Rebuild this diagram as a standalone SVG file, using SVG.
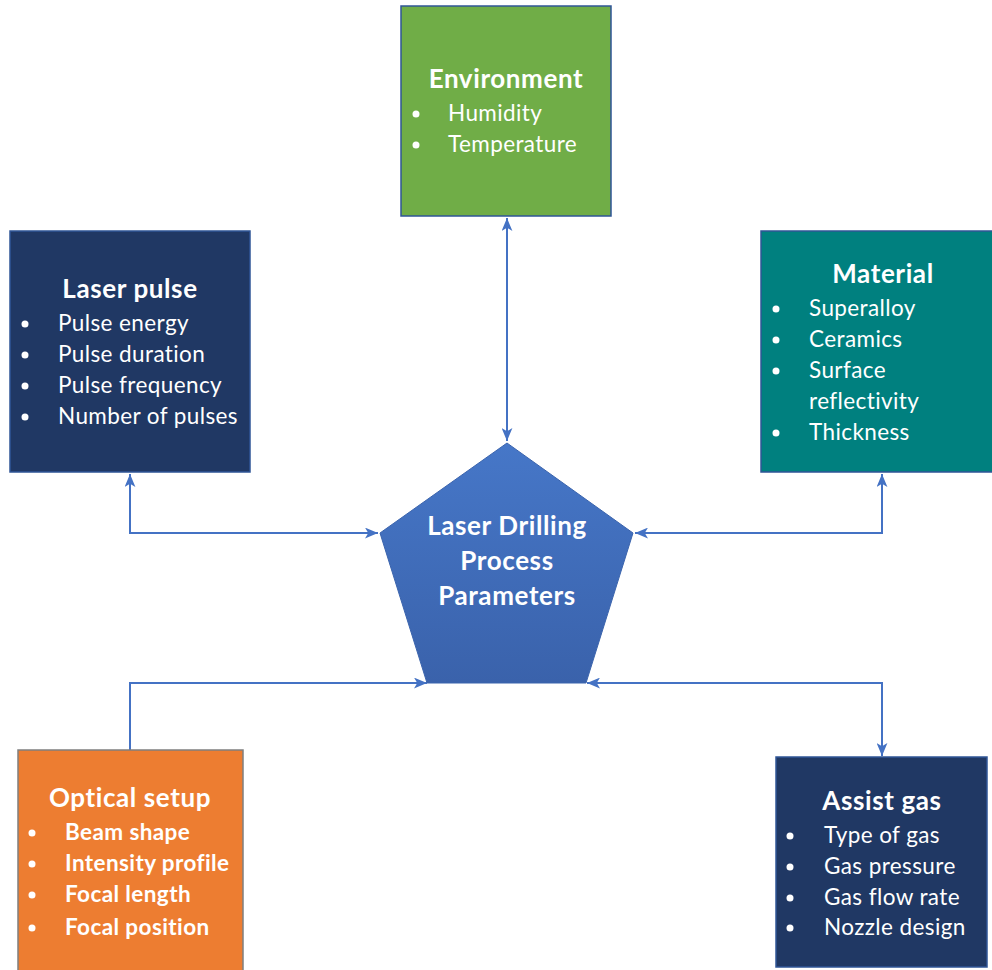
<svg xmlns="http://www.w3.org/2000/svg" width="992" height="970" viewBox="0 0 992 970">
<defs>
<linearGradient id="pg" x1="0" y1="0" x2="0" y2="1">
<stop offset="0" stop-color="#4677C8"/>
<stop offset="1" stop-color="#3A62AB"/>
</linearGradient>
<marker id="ah2" viewBox="0 0 12 10" refX="12" refY="5" markerWidth="13" markerHeight="11" orient="auto-start-reverse" markerUnits="userSpaceOnUse">
<path d="M0,0 L12,5 L0,10 L3,5 z" fill="#4472C4"/>
</marker>
</defs>
<style>
.box{stroke:#2F5597;stroke-width:1.5}
.t{font-family:Lato,"Open Sans","Liberation Sans",sans-serif;fill:#fff}
.h{font-size:26px;font-weight:bold;text-anchor:middle;letter-spacing:0.6px}
.i{font-size:22.5px;letter-spacing:0.4px}
.b{font-weight:bold}
.c{fill:none;stroke:#4472C4;stroke-width:2}
</style>
<rect width="992" height="970" fill="#fff"/>
<g id="connectors">
<path class="c" d="M507,218 L507,441" marker-start="url(#ah2)" marker-end="url(#ah2)"/>
<path class="c" d="M130,474 L130,533 L378,533" marker-start="url(#ah2)" marker-end="url(#ah2)"/>
<path class="c" d="M882,474 L882,533 L635,533" marker-start="url(#ah2)" marker-end="url(#ah2)"/>
<path class="c" d="M130,750 L130,683 L427,683" marker-end="url(#ah2)"/>
<path class="c" d="M587,683 L882,683 L882,756" marker-start="url(#ah2)" marker-end="url(#ah2)"/>
</g>
<g id="environment">
<rect class="box" x="401" y="6" width="210" height="210" fill="#70AD47"/>
<text class="t h" x="506" y="88">Environment</text>
<circle cx="416" cy="114" r="3.5" fill="#fff"/>
<text class="t i" x="448" y="121">Humidity</text>
<circle cx="416" cy="145" r="3.5" fill="#fff"/>
<text class="t i" x="448" y="152">Temperature</text>
</g>
<g id="laser-pulse">
<rect class="box" x="10" y="231" width="240" height="241" fill="#203864"/>
<text class="t h" x="130" y="298">Laser pulse</text>
<circle cx="25" cy="324" r="3.5" fill="#fff"/>
<text class="t i" x="58" y="331">Pulse energy</text>
<circle cx="25" cy="355" r="3.5" fill="#fff"/>
<text class="t i" x="58" y="362">Pulse duration</text>
<circle cx="25" cy="386" r="3.5" fill="#fff"/>
<text class="t i" x="58" y="393">Pulse frequency</text>
<circle cx="25" cy="417" r="3.5" fill="#fff"/>
<text class="t i" x="58" y="424">Number of pulses</text>
</g>
<g id="material">
<rect class="box" x="761" y="231" width="233" height="241" fill="#00807F"/>
<text class="t h" x="883" y="283">Material</text>
<circle cx="776" cy="309" r="3.5" fill="#fff"/>
<text class="t i" x="809" y="316">Superalloy</text>
<circle cx="776" cy="340" r="3.5" fill="#fff"/>
<text class="t i" x="809" y="347">Ceramics</text>
<circle cx="776" cy="371" r="3.5" fill="#fff"/>
<text class="t i" x="809" y="378">Surface</text>
<text class="t i" x="809" y="409">reflectivity</text>
<circle cx="776" cy="433" r="3.5" fill="#fff"/>
<text class="t i" x="809" y="440">Thickness</text>
</g>
<g id="optical-setup">
<rect x="18" y="750" width="225" height="225" fill="#ED7D31" stroke="#7F7F7F" stroke-width="1.5"/>
<text class="t h" x="130" y="807">Optical setup</text>
<circle cx="32" cy="833" r="3.5" fill="#fff"/>
<text class="t i b" x="65" y="840">Beam shape</text>
<circle cx="32" cy="864" r="3.5" fill="#fff"/>
<text class="t i b" x="65" y="871">Intensity profile</text>
<circle cx="32" cy="895" r="3.5" fill="#fff"/>
<text class="t i b" x="65" y="902">Focal length</text>
<circle cx="32" cy="928" r="3.5" fill="#fff"/>
<text class="t i b" x="65" y="935">Focal position</text>
</g>
<g id="assist-gas">
<rect class="box" x="776" y="757" width="211" height="210" fill="#203864"/>
<text class="t h" x="882" y="810">Assist gas</text>
<circle cx="790" cy="836" r="3.5" fill="#fff"/>
<text class="t i" x="824" y="843">Type of gas</text>
<circle cx="790" cy="867" r="3.5" fill="#fff"/>
<text class="t i" x="824" y="874">Gas pressure</text>
<circle cx="790" cy="898" r="3.5" fill="#fff"/>
<text class="t i" x="824" y="905">Gas flow rate</text>
<circle cx="790" cy="928" r="3.5" fill="#fff"/>
<text class="t i" x="824" y="935">Nozzle design</text>
</g>
<g id="center">
<polygon points="507,443 633,533 586,683 427,683 380,533" fill="url(#pg)" stroke="#3B64AD" stroke-width="1"/>
<text class="t h" x="507" y="535">Laser Drilling</text>
<text class="t h" x="507" y="570">Process</text>
<text class="t h" x="507" y="605">Parameters</text>
</g>
</svg>
